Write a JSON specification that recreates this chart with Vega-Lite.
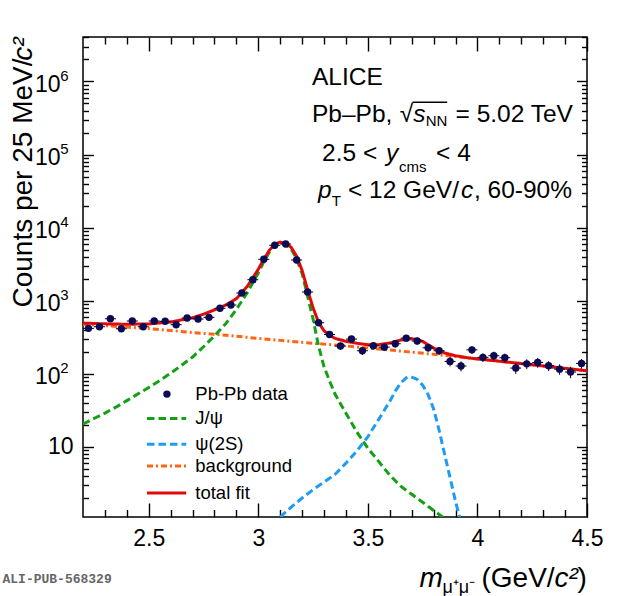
{
  "$schema": "https://vega.github.io/schema/vega-lite/v6.json",
  "width": 504,
  "height": 480,
  "autosize": {"type": "none"},
  "padding": {"left": 83, "top": 37, "right": 33, "bottom": 79},
  "background": "white",
  "datasets": {
    "curves": [
      {"series": "background", "m": 2.2, "v": 478}, {"series": "background", "m": 2.3, "v": 456},
      {"series": "background", "m": 2.4, "v": 436}, {"series": "background", "m": 2.5, "v": 416},
      {"series": "background", "m": 2.6, "v": 392}, {"series": "background", "m": 2.7, "v": 368},
      {"series": "background", "m": 2.8, "v": 347}, {"series": "background", "m": 2.9, "v": 327},
      {"series": "background", "m": 3.0, "v": 305}, {"series": "background", "m": 3.1, "v": 287},
      {"series": "background", "m": 3.2, "v": 270}, {"series": "background", "m": 3.3, "v": 255},
      {"series": "background", "m": 3.4, "v": 241}, {"series": "background", "m": 3.5, "v": 226},
      {"series": "background", "m": 3.6, "v": 212}, {"series": "background", "m": 3.7, "v": 198},
      {"series": "background", "m": 3.8, "v": 185}, {"series": "background", "m": 3.9, "v": 172},
      {"series": "background", "m": 4.0, "v": 160}, {"series": "background", "m": 4.1, "v": 149},
      {"series": "background", "m": 4.2, "v": 138}, {"series": "background", "m": 4.3, "v": 128},
      {"series": "background", "m": 4.4, "v": 119}, {"series": "background", "m": 4.5, "v": 110},

      {"series": "J/ψ", "m": 2.2, "v": 20.5}, {"series": "J/ψ", "m": 2.25, "v": 24.5},
      {"series": "J/ψ", "m": 2.3, "v": 29}, {"series": "J/ψ", "m": 2.35, "v": 35},
      {"series": "J/ψ", "m": 2.4, "v": 43}, {"series": "J/ψ", "m": 2.45, "v": 53},
      {"series": "J/ψ", "m": 2.5, "v": 65}, {"series": "J/ψ", "m": 2.55, "v": 81},
      {"series": "J/ψ", "m": 2.6, "v": 102}, {"series": "J/ψ", "m": 2.65, "v": 131},
      {"series": "J/ψ", "m": 2.7, "v": 170}, {"series": "J/ψ", "m": 2.75, "v": 235},
      {"series": "J/ψ", "m": 2.8, "v": 330}, {"series": "J/ψ", "m": 2.85, "v": 480},
      {"series": "J/ψ", "m": 2.9, "v": 760}, {"series": "J/ψ", "m": 2.95, "v": 1300},
      {"series": "J/ψ", "m": 3.0, "v": 2400}, {"series": "J/ψ", "m": 3.025, "v": 3400},
      {"series": "J/ψ", "m": 3.05, "v": 4600}, {"series": "J/ψ", "m": 3.075, "v": 5700},
      {"series": "J/ψ", "m": 3.1, "v": 6150}, {"series": "J/ψ", "m": 3.125, "v": 5850},
      {"series": "J/ψ", "m": 3.15, "v": 5100}, {"series": "J/ψ", "m": 3.175, "v": 3750},
      {"series": "J/ψ", "m": 3.2, "v": 2350}, {"series": "J/ψ", "m": 3.225, "v": 1150},
      {"series": "J/ψ", "m": 3.25, "v": 560}, {"series": "J/ψ", "m": 3.275, "v": 240},
      {"series": "J/ψ", "m": 3.3, "v": 125}, {"series": "J/ψ", "m": 3.325, "v": 80},
      {"series": "J/ψ", "m": 3.35, "v": 53}, {"series": "J/ψ", "m": 3.375, "v": 39},
      {"series": "J/ψ", "m": 3.4, "v": 29}, {"series": "J/ψ", "m": 3.45, "v": 16},
      {"series": "J/ψ", "m": 3.5, "v": 9.6}, {"series": "J/ψ", "m": 3.55, "v": 6.3},
      {"series": "J/ψ", "m": 3.6, "v": 4.1}, {"series": "J/ψ", "m": 3.65, "v": 2.9},
      {"series": "J/ψ", "m": 3.7, "v": 2.25}, {"series": "J/ψ", "m": 3.75, "v": 1.75},
      {"series": "J/ψ", "m": 3.8, "v": 1.35}, {"series": "J/ψ", "m": 3.85, "v": 1.05},
      {"series": "J/ψ", "m": 3.87, "v": 1.0},

      {"series": "ψ(2S)", "m": 3.1, "v": 1.1}, {"series": "ψ(2S)", "m": 3.15, "v": 1.5},
      {"series": "ψ(2S)", "m": 3.2, "v": 2.0}, {"series": "ψ(2S)", "m": 3.25, "v": 2.6},
      {"series": "ψ(2S)", "m": 3.3, "v": 3.3}, {"series": "ψ(2S)", "m": 3.35, "v": 4.2},
      {"series": "ψ(2S)", "m": 3.4, "v": 6.0}, {"series": "ψ(2S)", "m": 3.45, "v": 8.8},
      {"series": "ψ(2S)", "m": 3.5, "v": 13.8}, {"series": "ψ(2S)", "m": 3.55, "v": 24},
      {"series": "ψ(2S)", "m": 3.6, "v": 42}, {"series": "ψ(2S)", "m": 3.625, "v": 58},
      {"series": "ψ(2S)", "m": 3.65, "v": 75}, {"series": "ψ(2S)", "m": 3.675, "v": 88},
      {"series": "ψ(2S)", "m": 3.69, "v": 92}, {"series": "ψ(2S)", "m": 3.7, "v": 90},
      {"series": "ψ(2S)", "m": 3.725, "v": 84}, {"series": "ψ(2S)", "m": 3.75, "v": 70},
      {"series": "ψ(2S)", "m": 3.775, "v": 52}, {"series": "ψ(2S)", "m": 3.8, "v": 33},
      {"series": "ψ(2S)", "m": 3.825, "v": 17}, {"series": "ψ(2S)", "m": 3.85, "v": 8},
      {"series": "ψ(2S)", "m": 3.875, "v": 3.8}, {"series": "ψ(2S)", "m": 3.9, "v": 1.8},
      {"series": "ψ(2S)", "m": 3.92, "v": 1.05},

      {"series": "total fit", "m": 2.2, "v": 495}, {"series": "total fit", "m": 2.3, "v": 483},
      {"series": "total fit", "m": 2.4, "v": 477}, {"series": "total fit", "m": 2.5, "v": 482},
      {"series": "total fit", "m": 2.6, "v": 512}, {"series": "total fit", "m": 2.7, "v": 585},
      {"series": "total fit", "m": 2.75, "v": 655}, {"series": "total fit", "m": 2.8, "v": 750},
      {"series": "total fit", "m": 2.85, "v": 870}, {"series": "total fit", "m": 2.9, "v": 1070},
      {"series": "total fit", "m": 2.95, "v": 1580}, {"series": "total fit", "m": 3.0, "v": 2700},
      {"series": "total fit", "m": 3.025, "v": 3700}, {"series": "total fit", "m": 3.05, "v": 4880},
      {"series": "total fit", "m": 3.075, "v": 5950}, {"series": "total fit", "m": 3.1, "v": 6350},
      {"series": "total fit", "m": 3.125, "v": 6100}, {"series": "total fit", "m": 3.15, "v": 5380},
      {"series": "total fit", "m": 3.175, "v": 4050}, {"series": "total fit", "m": 3.2, "v": 2600},
      {"series": "total fit", "m": 3.225, "v": 1400}, {"series": "total fit", "m": 3.25, "v": 800},
      {"series": "total fit", "m": 3.275, "v": 505}, {"series": "total fit", "m": 3.3, "v": 388},
      {"series": "total fit", "m": 3.325, "v": 338}, {"series": "total fit", "m": 3.35, "v": 306},
      {"series": "total fit", "m": 3.4, "v": 278}, {"series": "total fit", "m": 3.45, "v": 262},
      {"series": "total fit", "m": 3.5, "v": 250}, {"series": "total fit", "m": 3.55, "v": 251},
      {"series": "total fit", "m": 3.6, "v": 264}, {"series": "total fit", "m": 3.65, "v": 290},
      {"series": "total fit", "m": 3.7, "v": 302}, {"series": "total fit", "m": 3.725, "v": 295},
      {"series": "total fit", "m": 3.75, "v": 278}, {"series": "total fit", "m": 3.8, "v": 225},
      {"series": "total fit", "m": 3.85, "v": 193}, {"series": "total fit", "m": 3.9, "v": 177},
      {"series": "total fit", "m": 3.95, "v": 167}, {"series": "total fit", "m": 4.0, "v": 160},
      {"series": "total fit", "m": 4.1, "v": 149}, {"series": "total fit", "m": 4.2, "v": 138},
      {"series": "total fit", "m": 4.3, "v": 128}, {"series": "total fit", "m": 4.4, "v": 119},
      {"series": "total fit", "m": 4.5, "v": 110}
    ],
    "points": [
      {"m": 2.225, "m0": 2.2, "m1": 2.25, "n": 419, "lo": 382, "hi": 456},
      {"m": 2.275, "m0": 2.25, "m1": 2.3, "n": 441, "lo": 403, "hi": 479},
      {"m": 2.325, "m0": 2.3, "m1": 2.35, "n": 567, "lo": 524, "hi": 610},
      {"m": 2.375, "m0": 2.35, "m1": 2.4, "n": 414, "lo": 377, "hi": 451},
      {"m": 2.425, "m0": 2.4, "m1": 2.45, "n": 528, "lo": 487, "hi": 569},
      {"m": 2.475, "m0": 2.45, "m1": 2.5, "n": 441, "lo": 403, "hi": 479},
      {"m": 2.525, "m0": 2.5, "m1": 2.55, "n": 528, "lo": 487, "hi": 569},
      {"m": 2.575, "m0": 2.55, "m1": 2.6, "n": 523, "lo": 482, "hi": 564},
      {"m": 2.625, "m0": 2.6, "m1": 2.65, "n": 470, "lo": 431, "hi": 509},
      {"m": 2.675, "m0": 2.65, "m1": 2.7, "n": 580, "lo": 537, "hi": 623},
      {"m": 2.725, "m0": 2.7, "m1": 2.75, "n": 562, "lo": 519, "hi": 605},
      {"m": 2.775, "m0": 2.75, "m1": 2.8, "n": 593, "lo": 549, "hi": 637},
      {"m": 2.825, "m0": 2.8, "m1": 2.85, "n": 788, "lo": 737, "hi": 839},
      {"m": 2.875, "m0": 2.85, "m1": 2.9, "n": 874, "lo": 821, "hi": 927},
      {"m": 2.925, "m0": 2.9, "m1": 2.95, "n": 1275, "lo": 1211, "hi": 1339},
      {"m": 2.975, "m0": 2.95, "m1": 3.0, "n": 1940, "lo": 1861, "hi": 2019},
      {"m": 3.025, "m0": 3.0, "m1": 3.05, "n": 3690, "lo": 3581, "hi": 3799},
      {"m": 3.075, "m0": 3.05, "m1": 3.1, "n": 5740, "lo": 5604, "hi": 5876},
      {"m": 3.125, "m0": 3.1, "m1": 3.15, "n": 5980, "lo": 5841, "hi": 6119},
      {"m": 3.175, "m0": 3.15, "m1": 3.2, "n": 3610, "lo": 3502, "hi": 3718},
      {"m": 3.225, "m0": 3.2, "m1": 3.25, "n": 1318, "lo": 1253, "hi": 1383},
      {"m": 3.275, "m0": 3.25, "m1": 3.3, "n": 500, "lo": 460, "hi": 540},
      {"m": 3.325, "m0": 3.3, "m1": 3.35, "n": 345, "lo": 312, "hi": 378},
      {"m": 3.375, "m0": 3.35, "m1": 3.4, "n": 240, "lo": 212, "hi": 268},
      {"m": 3.425, "m0": 3.4, "m1": 3.45, "n": 299, "lo": 268, "hi": 330},
      {"m": 3.475, "m0": 3.45, "m1": 3.5, "n": 207, "lo": 181, "hi": 233},
      {"m": 3.525, "m0": 3.5, "m1": 3.55, "n": 242, "lo": 214, "hi": 270},
      {"m": 3.575, "m0": 3.55, "m1": 3.6, "n": 232, "lo": 205, "hi": 259},
      {"m": 3.625, "m0": 3.6, "m1": 3.65, "n": 258, "lo": 229, "hi": 287},
      {"m": 3.675, "m0": 3.65, "m1": 3.7, "n": 308, "lo": 276, "hi": 340},
      {"m": 3.725, "m0": 3.7, "m1": 3.75, "n": 281, "lo": 251, "hi": 311},
      {"m": 3.775, "m0": 3.75, "m1": 3.8, "n": 227, "lo": 200, "hi": 254},
      {"m": 3.825, "m0": 3.8, "m1": 3.85, "n": 207, "lo": 181, "hi": 233},
      {"m": 3.875, "m0": 3.85, "m1": 3.9, "n": 148, "lo": 126, "hi": 170},
      {"m": 3.925, "m0": 3.9, "m1": 3.95, "n": 128, "lo": 108, "hi": 148},
      {"m": 3.975, "m0": 3.95, "m1": 4.0, "n": 213, "lo": 187, "hi": 239},
      {"m": 4.025, "m0": 4.0, "m1": 4.05, "n": 168, "lo": 145, "hi": 191},
      {"m": 4.075, "m0": 4.05, "m1": 4.1, "n": 177, "lo": 153, "hi": 201},
      {"m": 4.125, "m0": 4.1, "m1": 4.15, "n": 166, "lo": 143, "hi": 189},
      {"m": 4.175, "m0": 4.15, "m1": 4.2, "n": 120, "lo": 100, "hi": 140},
      {"m": 4.225, "m0": 4.2, "m1": 4.25, "n": 137, "lo": 116, "hi": 158},
      {"m": 4.275, "m0": 4.25, "m1": 4.3, "n": 143, "lo": 121, "hi": 165},
      {"m": 4.325, "m0": 4.3, "m1": 4.35, "n": 129, "lo": 109, "hi": 149},
      {"m": 4.375, "m0": 4.35, "m1": 4.4, "n": 116, "lo": 97, "hi": 135},
      {"m": 4.425, "m0": 4.4, "m1": 4.45, "n": 106, "lo": 87, "hi": 125},
      {"m": 4.475, "m0": 4.45, "m1": 4.5, "n": 139, "lo": 118, "hi": 160}
    ],
    "legendLines": [
      {"series": "J/ψ", "v": 24.5},
      {"series": "ψ(2S)", "v": 10.9},
      {"series": "background", "v": 5.5},
      {"series": "total fit", "v": 2.35}
    ],
    "legendLabels": [
      {"label": "Pb-Pb data", "v": 52.8},
      {"label": "J/ψ", "v": 24.5},
      {"label": "ψ(2S)", "v": 10.9},
      {"label": "background", "v": 5.5},
      {"label": "total fit", "v": 2.35}
    ]
  },
  "layer": [
    {
      "data": {"name": "curves"},
      "mark": {"type": "line", "clip": true, "strokeWidth": 3},
      "encoding": {
        "x": {
          "field": "m", "type": "quantitative",
          "scale": {"domain": [2.2, 4.5], "nice": false, "zero": false},
          "axis": {
            "orient": "bottom", "values": [2.5, 3, 3.5, 4, 4.5], "format": "~g",
            "ticks": false, "labelFontSize": 23, "labelPadding": 10,
            "labelFlush": false, "labelOverlap": false,
            "title": "(GeV/", "titleFontSize": 28, "titleX": 398, "titleY": 69,
            "titleAlign": "left", "titleBaseline": "alphabetic"
          }
        },
        "y": {
          "field": "v", "type": "quantitative",
          "scale": {"type": "log", "domain": [1.1, 4060000], "nice": false},
          "axis": {
            "orient": "left", "values": [100, 1000, 10000, 100000, 1000000],
            "ticks": false, "labelFontSize": 23, "labelPadding": 23, "labelOffset": 3, "labelOverlap": false,
            "labelExpr": "'10'",
            "title": "Counts per 25 MeV/", "titleFontSize": 28, "titleAngle": -90,
            "titleAlign": "right", "titleBaseline": "alphabetic", "titleX": -52, "titleY": 21
          }
        },
        "color": {
          "field": "series", "type": "nominal", "legend": null,
          "scale": {"domain": ["J/ψ", "ψ(2S)", "background", "total fit"], "range": ["#14a014", "#1e9bf5", "#ff6414", "#e00a0a"]}
        },
        "strokeDash": {
          "field": "series", "type": "nominal", "legend": null,
          "scale": {"domain": ["J/ψ", "ψ(2S)", "background", "total fit"], "range": [[7.5, 4], [7.5, 4], [6, 3, 2, 3], [1, 0]]}
        }
      }
    },
    {
      "data": {"name": "legendLines"},
      "mark": {"type": "rule", "strokeWidth": 3},
      "encoding": {
        "x": {"datum": 2.492, "type": "quantitative", "axis": null},
        "x2": {"datum": 2.671},
        "y": {
          "field": "v", "type": "quantitative",
          "axis": {
            "orient": "left", "values": [10], "ticks": false, "labelFontSize": 23, "labelPadding": 10,
            "labelOverlap": false, "labelExpr": "'10'", "title": null
          }
        },
        "color": {"field": "series", "type": "nominal", "legend": null},
        "strokeDash": {"field": "series", "type": "nominal", "legend": null}
      }
    },
    {
      "data": {"values": [{"label": "Pb-Pb data", "v": 52.8}]},
      "mark": {"type": "point", "filled": true, "shape": "circle", "size": 55, "color": "#0a0a55", "opacity": 1},
      "encoding": {
        "x": {"datum": 2.583, "type": "quantitative", "axis": null},
        "y": {"field": "v", "type": "quantitative", "axis": null}
      }
    },
    {
      "data": {"name": "legendLabels"},
      "mark": {"type": "text", "align": "left", "baseline": "middle", "fontSize": 18.5, "color": "black"},
      "encoding": {
        "x": {"datum": 2.7125, "type": "quantitative", "axis": null},
        "y": {
          "field": "v", "type": "quantitative",
          "axis": {
            "orient": "left", "values": [100, 1000, 10000, 100000, 1000000], "ticks": false,
            "labelFontSize": 15, "labelPadding": 15, "labelOffset": -6, "labelOverlap": false,
            "labelExpr": "round(log(datum.value) / LN10) + ''", "title": null
          }
        },
        "text": {"field": "label"}
      }
    },
    {
      "data": {"name": "points"},
      "mark": {"type": "rule", "color": "black", "strokeWidth": 1},
      "encoding": {
        "x": {
          "field": "m0", "type": "quantitative",
          "axis": {
            "orient": "bottom", "values": [2.5, 3, 3.5, 4, 4.5], "labels": false, "tickSize": -14,
            "title": "m", "titleFontSize": 28, "titleFontStyle": "italic", "titleX": 336, "titleY": 69,
            "titleAlign": "left", "titleBaseline": "alphabetic"
          }
        },
        "x2": {"field": "m1"},
        "y": {
          "field": "n", "type": "quantitative",
          "axis": {
            "orient": "left", "values": [10, 100, 1000, 10000, 100000, 1000000], "labels": false, "tickSize": -10.5,
            "title": "c²", "titleFontSize": 28, "titleFontStyle": "italic", "titleAngle": -90,
            "titleAlign": "right", "titleBaseline": "alphabetic", "titleX": -52, "titleY": 0
          }
        }
      }
    },
    {
      "data": {"name": "points"},
      "mark": {"type": "rule", "color": "black", "strokeWidth": 1},
      "encoding": {
        "x": {
          "field": "m", "type": "quantitative",
          "axis": {
            "orient": "bottom", "labels": false, "tickSize": -7.5,
            "values": [2.3, 2.4, 2.6, 2.7, 2.8, 2.9, 3.1, 3.2, 3.3, 3.4, 3.6, 3.7, 3.8, 3.9, 4.1, 4.2, 4.3, 4.4],
            "title": "μ⁺μ⁻", "titleFontSize": 18, "titleX": 359, "titleY": 75,
            "titleAlign": "left", "titleBaseline": "alphabetic"
          }
        },
        "y": {
          "field": "lo", "type": "quantitative",
          "axis": {
            "orient": "left", "labels": false, "tickSize": -5.5,
            "values": [2, 3, 4, 5, 6, 7, 8, 9, 20, 30, 40, 50, 60, 70, 80, 90, 200, 300, 400, 500, 600, 700, 800, 900, 2000, 3000, 4000, 5000, 6000, 7000, 8000, 9000, 20000, 30000, 40000, 50000, 60000, 70000, 80000, 90000, 200000, 300000, 400000, 500000, 600000, 700000, 800000, 900000, 2000000, 3000000, 4000000],
            "title": "ALI-PUB-568329", "titleFont": "Liberation Mono", "titleFontSize": 13, "titleFontWeight": "bold",
            "titleColor": "#666666", "titleAngle": 0, "titleAlign": "left", "titleBaseline": "alphabetic",
            "titleX": -81, "titleY": 545
          }
        },
        "y2": {"field": "hi"}
      }
    },
    {
      "data": {"name": "points"},
      "mark": {"type": "point", "filled": true, "shape": "circle", "size": 55, "color": "#0a0a55", "opacity": 1},
      "encoding": {
        "x": {
          "field": "m", "type": "quantitative",
          "axis": {
            "orient": "top", "values": [2.5, 3, 3.5, 4, 4.5], "labels": false, "tickSize": -14,
            "title": "c²", "titleFontSize": 28, "titleFontStyle": "italic", "titleX": 471, "titleY": 549,
            "titleAlign": "left", "titleBaseline": "alphabetic"
          }
        },
        "y": {
          "field": "n", "type": "quantitative",
          "axis": {"orient": "right", "values": [10, 100, 1000, 10000, 100000, 1000000], "labels": false, "tickSize": -10.5, "title": null}
        }
      }
    },
    {
      "data": {"values": [
        {"m": 3.245, "v": 900000, "text": "ALICE"},
        {"m": 3.245, "v": 283000, "text": "Pb–Pb,"},
        {"m": 3.645, "v": 283000, "text": "√"},
        {"m": 3.9, "v": 283000, "text": "= 5.02 TeV"},
        {"m": 3.291, "v": 82800, "text": "2.5 <"},
        {"m": 3.811, "v": 82800, "text": "< 4"},
        {"m": 3.409, "v": 25300, "text": "< 12 GeV/"},
        {"m": 3.984, "v": 25300, "text": ", 60-90%"}
      ]},
      "mark": {"type": "text", "align": "left", "baseline": "alphabetic", "fontSize": 24.5, "color": "black"},
      "encoding": {
        "x": {
          "field": "m", "type": "quantitative",
          "axis": {
            "orient": "top", "labels": false, "tickSize": -7,
            "values": [2.3, 2.4, 2.6, 2.7, 2.8, 2.9, 3.1, 3.2, 3.3, 3.4, 3.6, 3.7, 3.8, 3.9, 4.1, 4.2, 4.3, 4.4],
            "title": ")", "titleFontSize": 28, "titleX": 494, "titleY": 549,
            "titleAlign": "left", "titleBaseline": "alphabetic"
          }
        },
        "y": {
          "field": "v", "type": "quantitative",
          "axis": {
            "orient": "right", "labels": false, "tickSize": -5.5, "title": null,
            "values": [2, 3, 4, 5, 6, 7, 8, 9, 20, 30, 40, 50, 60, 70, 80, 90, 200, 300, 400, 500, 600, 700, 800, 900, 2000, 3000, 4000, 5000, 6000, 7000, 8000, 9000, 20000, 30000, 40000, 50000, 60000, 70000, 80000, 90000, 200000, 300000, 400000, 500000, 600000, 700000, 800000, 900000, 2000000, 3000000, 4000000]
          }
        },
        "text": {"field": "text"}
      }
    },
    {
      "data": {"values": [
        {"m": 3.707, "v": 283000, "text": "s"},
        {"m": 3.583, "v": 82800, "text": "y"},
        {"m": 3.272, "v": 25300, "text": "p"},
        {"m": 3.925, "v": 25300, "text": "c"}
      ]},
      "mark": {"type": "text", "align": "left", "baseline": "alphabetic", "fontSize": 24.5, "fontStyle": "italic", "color": "black"},
      "encoding": {
        "x": {"field": "m", "type": "quantitative", "axis": null},
        "y": {"field": "v", "type": "quantitative", "axis": null},
        "text": {"field": "text"}
      }
    },
    {
      "data": {"values": [
        {"m": 3.764, "v": 247000, "text": "NN"},
        {"m": 3.642, "v": 58000, "text": "cms"},
        {"m": 3.335, "v": 19800, "text": "T"}
      ]},
      "mark": {"type": "text", "align": "left", "baseline": "alphabetic", "fontSize": 15, "color": "black"},
      "encoding": {
        "x": {"field": "m", "type": "quantitative", "axis": null},
        "y": {"field": "v", "type": "quantitative", "axis": null},
        "text": {"field": "text"}
      }
    },
    {
      "data": {"values": [{"m": 3.704, "m2": 3.862, "v": 520000}]},
      "mark": {"type": "rule", "color": "black", "strokeWidth": 1.3},
      "encoding": {
        "x": {"field": "m", "type": "quantitative", "axis": null},
        "x2": {"field": "m2"},
        "y": {"field": "v", "type": "quantitative", "axis": null}
      }
    }
  ],
  "resolve": {
    "scale": {"x": "shared", "y": "shared"},
    "axis": {"x": "independent", "y": "independent"}
  },
  "config": {
    "font": "Liberation Sans",
    "view": {"stroke": "black", "strokeWidth": 1.5},
    "axis": {
      "domain": false, "grid": false, "tickColor": "black", "tickWidth": 1.4,
      "labelColor": "black", "titleColor": "black", "labelFont": "Liberation Sans",
      "titleFont": "Liberation Sans", "titleFontWeight": "normal"
    }
  }
}
